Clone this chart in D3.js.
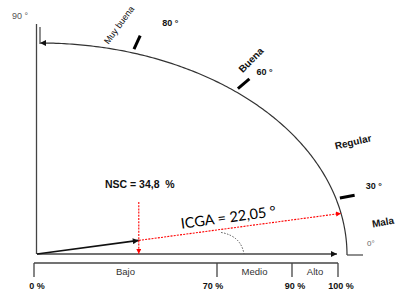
<!DOCTYPE html>
<html>
<head>
<meta charset="utf-8">
<script src="https://cdn.jsdelivr.net/npm/d3@7"></script>
<style>
  body { margin: 0; background: #fff; }
  text { font-family: "Liberation Sans", Arial, sans-serif; }
</style>
</head>
<body>
<div id="chart"></div>
<script>
  // values
  const bandNames  = ['Bajo', 'Medio', 'Alto']
  const bandBreaks = [0, 70, 90, 100]
  const zoneNames  = ['Mala', 'Regular', 'Buena', 'Muy buena']
  const arcTicks   = [30, 60, 80]
  const icga = 22.05
  const nsc  = 34.8

  const width = 400, height = 294
  const O  = { x: 37, y: 254 }      // axes origin
  const C  = { x: 40, y: 255 }      // centre of the quarter ellipse
  const rx = 307, ry = 212

  let svg = d3.select('#chart')
              .append('svg')
              .attr('width', width)
              .attr('height', height)

  svg.append('rect').attr('width', width).attr('height', height).attr('fill', '#fff')

  // scales: the figure is a schematic, so the band and angle ones are piecewise
  let xAxis = d3.scaleLinear().domain([0, 100]).range([O.x - 4, 337])
  let xBand = d3.scaleLinear().domain(bandBreaks).range([34, 217, 292, 338])
  let ang   = d3.scaleLinear().domain([0, 30, 60, 80, 90]).range([0, 15.4, 50.6, 72.5, 90])

  function onEll(t, k) {
    let r = t * Math.PI / 180
    k = k || 1
    return { x: C.x + k * rx * Math.cos(r), y: C.y - k * ry * Math.sin(r) } }
  function onArc(deg, k) { return onEll(ang(deg), k) }

  let defs = svg.append('defs')
  function marker(id, color, w, h) {
    defs.append('marker')
        .attr('id', id)
        .attr('viewBox', '0 0 10 10')
        .attr('refX', 10).attr('refY', 5)
        .attr('markerWidth', w).attr('markerHeight', h)
        .attr('markerUnits', 'userSpaceOnUse')
        .attr('orient', 'auto')
      .append('path')
        .attr('d', 'M0,0L10,5L0,10z')
        .attr('fill', color) }
  marker('ab', '#111', 8, 6)
  marker('ar', '#f00', 6, 5)

  let line = d3.line().x(d => d.x).y(d => d.y)
  let g = svg.append('g')

  // axes
  g.append('line')
    .attr('x1', 36.5).attr('y1', 24).attr('x2', 36.5).attr('y2', O.y)
    .attr('stroke', '#444').attr('stroke-width', 1.3)
  g.append('line')
    .attr('x1', O.x).attr('y1', O.y).attr('x2', xAxis(100)).attr('y2', O.y)
    .attr('stroke', '#444').attr('stroke-width', 1.3)
    .attr('marker-end', 'url(#ab)')

  // quarter ellipse, drawn from 0 deg up to 90 deg
  g.append('path')
    .attr('d', line(d3.range(0, 90.01, 0.5).map(t => onEll(t))))
    .attr('fill', 'none').attr('stroke', '#333').attr('stroke-width', 1.2)
    .attr('marker-end', 'url(#ab)')
  let arcTop = onEll(90)
  g.append('line')
    .attr('x1', arcTop.x).attr('y1', arcTop.y + 1).attr('x2', arcTop.x).attr('y2', 27)
    .attr('stroke', '#444').attr('stroke-width', 1.2)
  let arcBot = onEll(0)
  g.append('line')
    .attr('x1', arcBot.x).attr('y1', arcBot.y).attr('x2', arcBot.x + 16).attr('y2', arcBot.y)
    .attr('stroke', '#444').attr('stroke-width', 1.2)

  // ticks on the ellipse
  let nudge = { 30: [11, -6], 60: [7, -4], 80: [22, -10] }
  arcTicks.forEach(function(d) {
    let p = onArc(d), vx = p.x - C.x, vy = p.y - C.y, n = Math.hypot(vx, vy)
    vx /= n; vy /= n
    let a = { x: p.x + 4 * vx, y: p.y + 4 * vy }, b = { x: p.x + 19 * vx, y: p.y + 19 * vy }
    g.append('line')
      .attr('x1', a.x).attr('y1', a.y).attr('x2', b.x).attr('y2', b.y)
      .attr('stroke', '#000').attr('stroke-width', 3)
    g.append('text')
      .attr('x', b.x + nudge[d][0]).attr('y', b.y + nudge[d][1])
      .attr('font-size', 9).attr('font-weight', 'bold').attr('fill', '#111')
      .text(d + ' °') })

  // zone names
  let zoneLayout = [
    { x: 383, y: 222, rot: -10, w: 'bold',   s: 10 },
    { x: 353, y: 142, rot: -13, w: 'bold',   s: 10 },
    { x: 251, y: 60,  rot: -45, w: 'bold',   s: 10 },
    { x: 119, y: 25,  rot: -54, w: 'normal', s: 9 } ]
  zoneNames.forEach(function(name, i) {
    let l = zoneLayout[i]
    g.append('text')
      .attr('transform', 'translate(' + l.x + ',' + l.y + ') rotate(' + l.rot + ')')
      .attr('text-anchor', 'middle').attr('dy', '0.35em')
      .attr('font-size', l.s).attr('font-weight', l.w).attr('fill', '#111')
      .text(name) })

  g.append('text').attr('x', 12).attr('y', 19)
    .attr('font-size', 9).attr('fill', '#555').text('90 °')
  g.append('text').attr('x', arcBot.x + 20).attr('y', 246)
    .attr('font-size', 8).attr('fill', '#666').text('0°')

  // ICGA ray and NSC vector
  let A = onArc(icga)
  function rayAt(x) { return { x: x, y: O.y + (x - O.x) * (A.y - O.y) / (A.x - O.x) } }
  let N = rayAt(xAxis(nsc))
  let tilt = Math.atan2(A.y - O.y, A.x - O.x) * 180 / Math.PI

  // dotted angle mark
  let s0 = rayAt(221)
  g.append('path')
    .attr('d', 'M' + s0.x + ',' + (s0.y + 3) + 'Q241,236 244,' + O.y)
    .attr('fill', 'none').attr('stroke', '#555').attr('stroke-width', 1)
    .attr('stroke-dasharray', '1.5,1.5')

  g.append('line')
    .attr('x1', O.x).attr('y1', O.y).attr('x2', N.x).attr('y2', N.y)
    .attr('stroke', '#111').attr('stroke-width', 1.6)
    .attr('marker-end', 'url(#ab)')
  g.append('line')
    .attr('x1', N.x).attr('y1', N.y).attr('x2', A.x).attr('y2', A.y)
    .attr('stroke', '#f00').attr('stroke-width', 1.1).attr('stroke-dasharray', '2,1.2')
    .attr('marker-end', 'url(#ar)')
  g.append('line')
    .attr('x1', N.x).attr('y1', 202).attr('x2', N.x).attr('y2', O.y)
    .attr('stroke', '#f00').attr('stroke-width', 1.1).attr('stroke-dasharray', '2,1.2')
    .attr('marker-end', 'url(#ar)')

  g.append('text')
    .attr('x', N.x + 1).attr('y', 188)
    .attr('text-anchor', 'middle').attr('xml:space', 'preserve').style('white-space', 'pre')
    .attr('font-size', 10.5).attr('font-weight', 'bold').attr('fill', '#111')
    .text('NSC = ' + String(nsc).replace('.', ',') + '  %')

  let lp = rayAt(229)
  g.append('text')
    .attr('transform', 'translate(' + lp.x + ',' + (lp.y - 6) + ') rotate(' + tilt + ')')
    .attr('text-anchor', 'middle')
    .style('font-family', 'Lato, "Open Sans", sans-serif')
    .attr('font-size', 14.5).attr('fill', '#000')
    .text('ICGA = ' + String(icga).replace('.', ',') + ' °')

  // band underneath
  let band = svg.append('g')
  band.append('line')
    .attr('x1', xBand(0)).attr('y1', 263).attr('x2', xBand(100)).attr('y2', 263)
    .attr('stroke', '#444').attr('stroke-width', 1.3)
  band.selectAll('.btick').data(bandBreaks).enter()
    .append('line')
      .attr('x1', d => xBand(d)).attr('x2', d => xBand(d))
      .attr('y1', 263).attr('y2', 277)
      .attr('stroke', '#444').attr('stroke-width', 1.3)
  band.selectAll('.blab').data(bandBreaks).enter()
    .append('text')
      .attr('x', d => xBand(d) + (d === 70 ? -4 : 3)).attr('y', 289)
      .attr('text-anchor', 'middle')
      .attr('font-size', 9).attr('font-weight', 'bold').attr('fill', '#111')
      .text(d => d + ' %')
  band.selectAll('.bname').data(bandNames).enter()
    .append('text')
      .attr('x', (d, i) => (xBand(bandBreaks[i]) + xBand(bandBreaks[i + 1])) / 2)
      .attr('y', 275)
      .attr('text-anchor', 'middle')
      .attr('font-size', 9.5).attr('fill', '#333')
      .text(d => d)
</script>
</body>
</html>
